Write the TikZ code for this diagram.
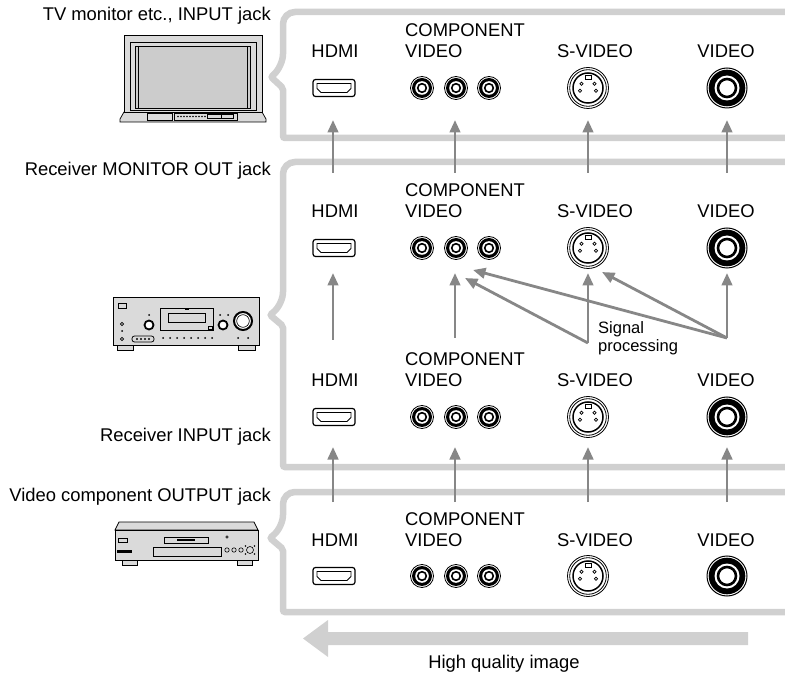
\documentclass[tikz,border=0pt]{standalone}
\usepackage{fontspec}
\setmainfont{Liberation Sans}
\usetikzlibrary{arrows.meta}
\definecolor{boxgray}{RGB}{208,208,208}
\definecolor{arrgray}{RGB}{135,135,135}
\definecolor{devgray}{RGB}{218,218,218}
\definecolor{scrgray}{RGB}{204,204,204}
\tikzset{
  frame/.style={draw=boxgray, line width=6.5pt},
  sig/.style={draw=arrgray, line width=2.8pt, -{Triangle[length=12.5pt,width=10.5pt]}},
  lbl/.style={font=\fontsize{18.4}{21}\selectfont, inner sep=0pt},
  sml/.style={font=\fontsize{16.5}{18}\selectfont, inner sep=0pt},
  dev/.style={draw=black, line width=0.7pt, fill=devgray},
  pics/hdmijack/.style={code={
    \draw[line width=1.2pt, rounded corners=2.5pt, fill=white] (-21pt,-8.5pt) rectangle (21pt,8.5pt);
    \draw[line width=0.8pt] (-17pt,4.5pt) -- (17pt,4.5pt) -- (17pt,-0.5pt) -- (13pt,-4.5pt) -- (-13pt,-4.5pt) -- (-17pt,-0.5pt) -- cycle;
  }},
  pics/rcajack/.style={code={
    \draw[line width=0.8pt, fill=white] (0,0) circle (11.5pt);
    \fill (0,0) circle (10pt);
    \fill[white] (0,0) circle (6.8pt);
    \draw[line width=1.6pt] (0,0) circle (4.3pt);
  }},
  pics/vidjack/.style={code={
    \draw[line width=1pt, fill=white] (0,0) circle (20pt);
    \fill (0,0) circle (18.3pt);
    \fill[white] (0,0) circle (12.5pt);
    \draw[line width=2.6pt] (0,0) circle (9pt);
  }},
  pics/svjack/.style={code={
    \draw[line width=0.8pt, fill=white] (0,0) circle (20.5pt);
    \draw[line width=0.8pt] (0,0) circle (18.3pt);
    \draw[line width=1.5pt] (0,0) circle (15pt);
    \draw[line width=0.7pt] (-6.5pt,4.3pt) circle (1.6pt) (6.5pt,4.3pt) circle (1.6pt)
      (-8pt,-2.7pt) circle (1.6pt) (8pt,-2.7pt) circle (1.6pt);
    \draw[line width=0.7pt, fill=white] (-3pt,9pt) rectangle (3.5pt,12.5pt);
  }},
}
\begin{document}
\begin{tikzpicture}[x=1pt, y=-1pt]
\useasboundingbox (0,0) rectangle (785,676);

% ---------- frames ----------
\draw[frame, rounded corners=12pt] (790,12) -- (283,12) -- (283,66)
  [rounded corners=2pt] -- (271,77) -- (283,88) -- (283,138)
  [rounded corners=12pt] -- (790,138);
\draw[frame, rounded corners=12pt] (790,162) -- (283,162) -- (283,304)
  [rounded corners=2pt] -- (270,315) -- (283,326) -- (283,467)
  [rounded corners=12pt] -- (790,467);
\draw[frame, rounded corners=12pt] (790,492) -- (283,492) -- (283,527)
  [rounded corners=2pt] -- (270,538) -- (283,549) -- (283,612)
  [rounded corners=12pt] -- (790,612);

% ---------- labels on the left ----------
\node[lbl, anchor=base east] (tvlbl) at (271,21) {TV monitor etc., INPUT jack};
\node[lbl, anchor=base east] (rmlbl) at (271,176) {Receiver MONITOR OUT jack};
\node[lbl, anchor=base east] (rilbl) at (271,441) {Receiver INPUT jack};
\node[lbl, anchor=base east] (vclbl) at (271,501) {Video component OUTPUT jack};

% ---------- rows of jacks ----------
\foreach \r/\dy in {1/0,2/160,3/329,4/488}{
  \begin{scope}[shift={(0,\dy)}]
    \node[lbl, anchor=base] (hdmi\r) at (335,58) {HDMI};
    \node[lbl, anchor=base west] (comp\r) at (405,37) {COMPONENT};
    \node[lbl, anchor=base west] (compv\r) at (405,58) {VIDEO};
    \node[lbl, anchor=base] (sv\r) at (595,58) {S-VIDEO};
    \node[lbl, anchor=base] (vid\r) at (726,58) {VIDEO};
    \pic at (334,88) {hdmijack};
    \pic at (422,88) {rcajack};
    \pic at (456,88) {rcajack};
    \pic at (489,88) {rcajack};
    \pic at (588,88) {svjack};
    \pic at (727,88) {vidjack};
  \end{scope}
}

% ---------- vertical arrows ----------
\foreach \n/\x in {h/333,c/455,s/588,v/727}{
  \coordinate (A\n s) at (\x,173); \coordinate (A\n e) at (\x,120);
  \coordinate (C\n s) at (\x,502); \coordinate (C\n e) at (\x,447);
  \coordinate (B\n e) at (\x,273);
  \draw[sig] (A\n s) -- (A\n e);
  \draw[sig] (C\n s) -- (C\n e);
}
\coordinate (Bhs) at (333,340);
\coordinate (Bcs) at (455,338);
\coordinate (Bss) at (588,343);
\coordinate (Bvs) at (727,338);
\draw[sig] (Bhs) -- (Bhe);
\draw[sig] (Bcs) -- (Bce);
\draw[sig] (Bss) -- (Bse);
\draw[sig] (Bvs) -- (Bve);
% signal processing diagonals
\coordinate (D1) at (465,278);
\coordinate (D2) at (473,270);
\coordinate (D3) at (602,272);
\draw[sig] (Bss) -- (D1);
\draw[sig] (Bvs) -- (D2);
\draw[sig] (Bvs) -- (D3);
\node[sml, anchor=base west] (sig1) at (598,334) {Signal};
\node[sml, anchor=base west] (sig2) at (598,352) {processing};

% ---------- big arrow ----------
\fill[boxgray] (748,632) -- (328,632) -- (328,620) -- (303,638.5) -- (328,657) -- (328,645) -- (748,645) -- cycle;
\node[lbl, anchor=base] (hq) at (504,668) {High quality image};

% ---------- TV ----------
\draw[dev] (120,122) -- (120,119) -- (124,112) -- (262,112) -- (266,119) -- (266,122) -- cycle;
\draw[dev] (124,35) rectangle (262,112);
\draw[line width=0.6pt] (130,42) rectangle (256,110);
\draw[line width=0.6pt, fill=scrgray] (135.5,46) rectangle (250.5,108);
\draw[line width=0.5pt] (138.5,46) -- (138.5,108) (247.5,46) -- (247.5,108);
\draw[line width=0.5pt, fill=devgray] (147,113) rectangle (172,120);
\draw[line width=0.5pt, fill=devgray] (174,113) rectangle (237,120);
\foreach \x in {178,181,...,205} \fill (\x,116.5) circle (0.9pt);
\draw[line width=0.5pt] (207,114.5) rectangle (221,118.5) (221,114.5) rectangle (233,118.5);

% ---------- receiver ----------
\draw[dev] (117,345) rectangle (133,350);
\draw[dev] (238,345) rectangle (255,350);
\draw[dev] (113,297) rectangle (259,345);
\draw[line width=0.7pt, fill=devgray] (118,303) rectangle (126,308);
\draw[line width=0.8pt, fill=devgray] (160,308) rectangle (213,330);
\draw[line width=0.6pt] (168,313) rectangle (205,322);
\fill (185,308) rectangle (189,310.5);
\draw[line width=0.5pt] (208,326) rectangle (212,329);
\draw[line width=1.8pt, fill=white] (149,325) circle (4.5pt);
\draw[line width=1.8pt, fill=white] (223,325) circle (4.5pt);
\draw[line width=2pt, fill=white] (243,321) circle (9pt);
\draw[line width=0.6pt] (243,321) circle (6.3pt);
\foreach \x in {163,170,...,212} \fill (\x,338) circle (1pt);
\foreach \p in {(149,315),(220,315),(228,315),(238,338),(248,338),(122,331)} \fill \p circle (1pt);
\draw[line width=0.7pt] (122,324) circle (1.6pt) (122,339) circle (1.6pt);
\draw[line width=0.8pt, rounded corners=2.5pt] (132,336) rectangle (154,342);
\foreach \x in {137,141,145,149} \fill (\x,339) circle (1.2pt);

% ---------- video component (player) ----------
\draw[dev] (122,560) rectangle (137,565);
\draw[dev] (237,560) rectangle (252,565);
\draw[dev] (119,522) -- (254,522) -- (258,530) -- (115,530) -- cycle;
\draw[dev] (115,530) rectangle (258,560);
\draw[line width=0.6pt] (164,537) rectangle (208,543);
\fill (177,539) rectangle (195,541);
\draw[line width=0.6pt] (153,547) rectangle (221,556);
\draw[line width=0.6pt] (118,538) rectangle (127,542);
\fill (117,550) rectangle (132,553);
\draw[line width=0.5pt] (227,537) circle (1.2pt);
\foreach \x in {227,234,241} \draw[line width=0.6pt] (\x,550) circle (2.2pt);
\draw[line width=0.6pt] (250,550) circle (3.5pt);
\foreach \p in {(245.5,546),(254.5,546),(245.5,554),(254.5,554)} \fill \p circle (0.8pt);
\end{tikzpicture}
\end{document}
